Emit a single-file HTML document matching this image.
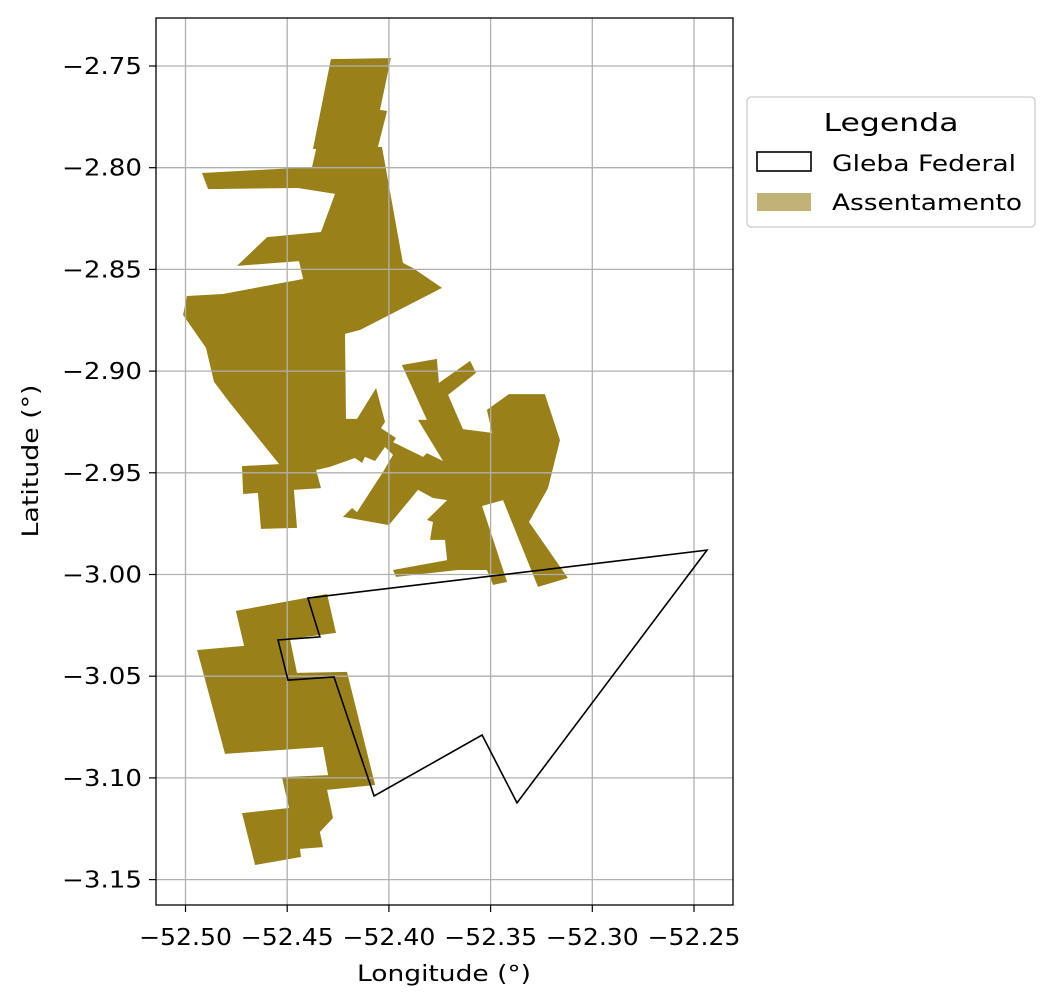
<!DOCTYPE html>
<html><head><meta charset="utf-8"><style>
body{margin:0;background:#fff;}
svg{display:block;font-family:"DejaVu Sans","Liberation Sans",sans-serif;}
</style></head><body>
<svg id="chart" width="1054" height="1006" viewBox="0 0 1054 1006" xmlns="http://www.w3.org/2000/svg">
<rect width="1054" height="1006" fill="#fff"/>
<g id="polys"></g>
<g id="grid"></g>
<g id="gleba"></g>
<rect x="156" y="18" width="577" height="887" fill="none" stroke="#000" stroke-width="1.3"/>
<g id="ticks" font-size="23" fill="#000"></g>
<text x="444" y="981" font-size="22" text-anchor="middle" textLength="174" lengthAdjust="spacingAndGlyphs">Longitude (°)</text>
<text x="38" y="461" font-size="22" text-anchor="middle" textLength="153" lengthAdjust="spacingAndGlyphs" transform="rotate(-90 38 461)">Latitude (°)</text>
<g>
<rect x="747" y="97" width="288" height="130" rx="4" fill="#fff" stroke="#ccc" stroke-width="1.3"/>
<text x="891" y="131" font-size="25" text-anchor="middle" textLength="135" lengthAdjust="spacingAndGlyphs">Legenda</text>
<rect x="757" y="152" width="54" height="19" fill="none" stroke="#000" stroke-width="1.6"/>
<text x="832" y="171" font-size="22" textLength="184" lengthAdjust="spacingAndGlyphs">Gleba Federal</text>
<rect x="757" y="193" width="54" height="18" fill="#c1b275"/>
<text x="832" y="210" font-size="22" textLength="190" lengthAdjust="spacingAndGlyphs">Assentamento</text>
</g>
</svg>
<script>
const xTicks=[-52.50,-52.45,-52.40,-52.35,-52.30,-52.25];
const xTickLabels=["\u221252.50","\u221252.45","\u221252.40","\u221252.35","\u221252.30","\u221252.25"];
const yTicks=[-2.75,-2.80,-2.85,-2.90,-2.95,-3.00,-3.05,-3.10,-3.15];
const yTickLabels=["\u22122.75","\u22122.80","\u22122.85","\u22122.90","\u22122.95","\u22123.00","\u22123.05","\u22123.10","\u22123.15"];
const glebaLon=[-52.4398,-52.4339,-52.4545,-52.4496,-52.4270,-52.4073,-52.3542,-52.3370,-52.2436];
const glebaLat=[-3.0116,-3.0307,-3.0322,-3.0519,-3.0504,-3.1089,-3.0789,-3.1123,-2.9880];
const nwLon=[-52.4285,-52.3990,-52.4044,-52.4009,-52.4054,-52.4034,-52.3931,-52.3882,-52.3739,-52.4142,-52.4216,-52.4211,-52.4157,-52.4063,-52.4019,-52.4039,-52.3965,-52.3985,-52.4019,-52.4068,-52.4118,-52.4132,-52.4167,-52.4290,-52.4358,-52.4334,-52.4467,-52.4452,-52.4629,-52.4644,-52.4717,-52.4722,-52.4540,-52.4781,-52.4860,-52.4899,-52.5012,-52.4993,-52.4816,-52.4422,-52.4442,-52.4747,-52.4599,-52.4334,-52.4265,-52.4447,-52.4889,-52.4919,-52.4378,-52.4358,-52.4373];
const nwLat=[-2.7466,-2.7461,-2.7716,-2.7721,-2.7898,-2.7898,-2.8468,-2.8493,-2.8591,-2.8798,-2.8817,-2.9235,-2.9235,-2.9083,-2.9250,-2.9280,-2.9329,-2.9358,-2.9373,-2.9442,-2.9422,-2.9452,-2.9427,-2.9471,-2.9486,-2.9575,-2.9584,-2.9771,-2.9776,-2.9599,-2.9604,-2.9467,-2.9457,-2.9157,-2.9053,-2.8886,-2.8724,-2.8631,-2.8621,-2.8547,-2.8459,-2.8483,-2.8341,-2.8316,-2.8129,-2.8100,-2.8105,-2.8026,-2.7997,-2.7908,-2.7908];
const midLon=[-52.3936,-52.3764,-52.3754,-52.3601,-52.3572,-52.3709,-52.3636,-52.3493,-52.3518,-52.3410,-52.3233,-52.3159,-52.3218,-52.3311,-52.3120,-52.3267,-52.3439,-52.3542,-52.3419,-52.3488,-52.3518,-52.3660,-52.3965,-52.3980,-52.3714,-52.3724,-52.3798,-52.3783,-52.3813,-52.3714,-52.3783,-52.3857,-52.4000,-52.4226,-52.4181,-52.4157,-52.4029,-52.3980,-52.4019,-52.3980,-52.3832,-52.3813,-52.3734,-52.3857,-52.3813];
const midLat=[-2.8970,-2.8940,-2.9058,-2.8950,-2.9009,-2.9117,-2.9285,-2.9304,-2.9191,-2.9113,-2.9113,-2.9339,-2.9575,-2.9742,-3.0017,-3.0061,-2.9634,-2.9663,-3.0037,-3.0051,-2.9978,-2.9978,-3.0012,-2.9978,-2.9929,-2.9830,-2.9830,-2.9742,-2.9732,-2.9634,-2.9624,-2.9584,-2.9757,-2.9717,-2.9673,-2.9693,-2.9496,-2.9412,-2.9373,-2.9349,-2.9422,-2.9403,-2.9442,-2.9240,-2.9240];
const sLon=[-52.4752,-52.4304,-52.4260,-52.4486,-52.4452,-52.4206,-52.4068,-52.4304,-52.4275,-52.4339,-52.4324,-52.4437,-52.4432,-52.4658,-52.4722,-52.4491,-52.4526,-52.4299,-52.4324,-52.4806,-52.4943,-52.4712];
const sLat=[-3.0179,-3.0096,-3.0287,-3.0317,-3.0484,-3.0479,-3.1035,-3.1059,-3.1197,-3.1266,-3.1340,-3.1349,-3.1389,-3.1428,-3.1173,-3.1148,-3.0996,-3.0986,-3.0848,-3.0882,-3.0371,-3.0351];

const X0=156,X1=733,Y0=18,Y1=905;
const sx=lon=>185.5+(lon+52.5)*2034;
const sy=lat=>66+(-2.75-lat)*2034;
const NS="http://www.w3.org/2000/svg";
function pts(lons,lats){return lons.map((v,i)=>sx(v).toFixed(1)+","+sy(lats[i]).toFixed(1)).join(" ");}

const polys=document.getElementById('polys');
[[nwLon,nwLat,'assentamento-north'],[midLon,midLat,'assentamento-central'],[sLon,sLat,'assentamento-south']].forEach(p=>{
  const el=document.createElementNS(NS,'polygon');
  el.setAttribute('points',pts(p[0],p[1]));
  el.setAttribute('fill','#9a8019');
  
  
  polys.appendChild(el);
});

const grid=document.getElementById('grid');
const ticks=document.getElementById('ticks');
xTicks.forEach((v,i)=>{
  const x=sx(v);
  const l=document.createElementNS(NS,'line');
  l.setAttribute('x1',x);l.setAttribute('x2',x);l.setAttribute('y1',Y0);l.setAttribute('y2',Y1);
  l.setAttribute('stroke','#b0b0b0');l.setAttribute('stroke-width','1.3');
  
  
  grid.appendChild(l);
  const t=document.createElementNS(NS,'line');
  t.setAttribute('x1',x);t.setAttribute('x2',x);t.setAttribute('y1',Y1);t.setAttribute('y2',Y1+7);
  t.setAttribute('stroke','#000');t.setAttribute('stroke-width','1.2');
  
  
  ticks.appendChild(t);
  const tx=document.createElementNS(NS,'text');
  tx.setAttribute('x',x);tx.setAttribute('y',Y1+40);tx.setAttribute('text-anchor','middle');
  tx.setAttribute('textLength','93');tx.setAttribute('lengthAdjust','spacingAndGlyphs');
  tx.textContent=xTickLabels[i];
  
  
  ticks.appendChild(tx);
});
yTicks.forEach((v,i)=>{
  const y=sy(v);
  const l=document.createElementNS(NS,'line');
  l.setAttribute('x1',X0);l.setAttribute('x2',X1);l.setAttribute('y1',y);l.setAttribute('y2',y);
  l.setAttribute('stroke','#b0b0b0');l.setAttribute('stroke-width','1.3');
  
  
  grid.appendChild(l);
  const t=document.createElementNS(NS,'line');
  t.setAttribute('x1',X0-7);t.setAttribute('x2',X0);t.setAttribute('y1',y);t.setAttribute('y2',y);
  t.setAttribute('stroke','#000');t.setAttribute('stroke-width','1.2');
  
  
  ticks.appendChild(t);
  const tx=document.createElementNS(NS,'text');
  tx.setAttribute('x',X0-14);tx.setAttribute('y',y+8);tx.setAttribute('text-anchor','end');
  tx.setAttribute('textLength','80');tx.setAttribute('lengthAdjust','spacingAndGlyphs');
  tx.textContent=yTickLabels[i];
  
  
  ticks.appendChild(tx);
});

const g=document.createElementNS(NS,'polygon');
g.setAttribute('points',pts(glebaLon,glebaLat));
g.setAttribute('fill','none');g.setAttribute('stroke','#000');g.setAttribute('stroke-width','1.6');


document.getElementById('gleba').appendChild(g);
</script>
</body></html>
